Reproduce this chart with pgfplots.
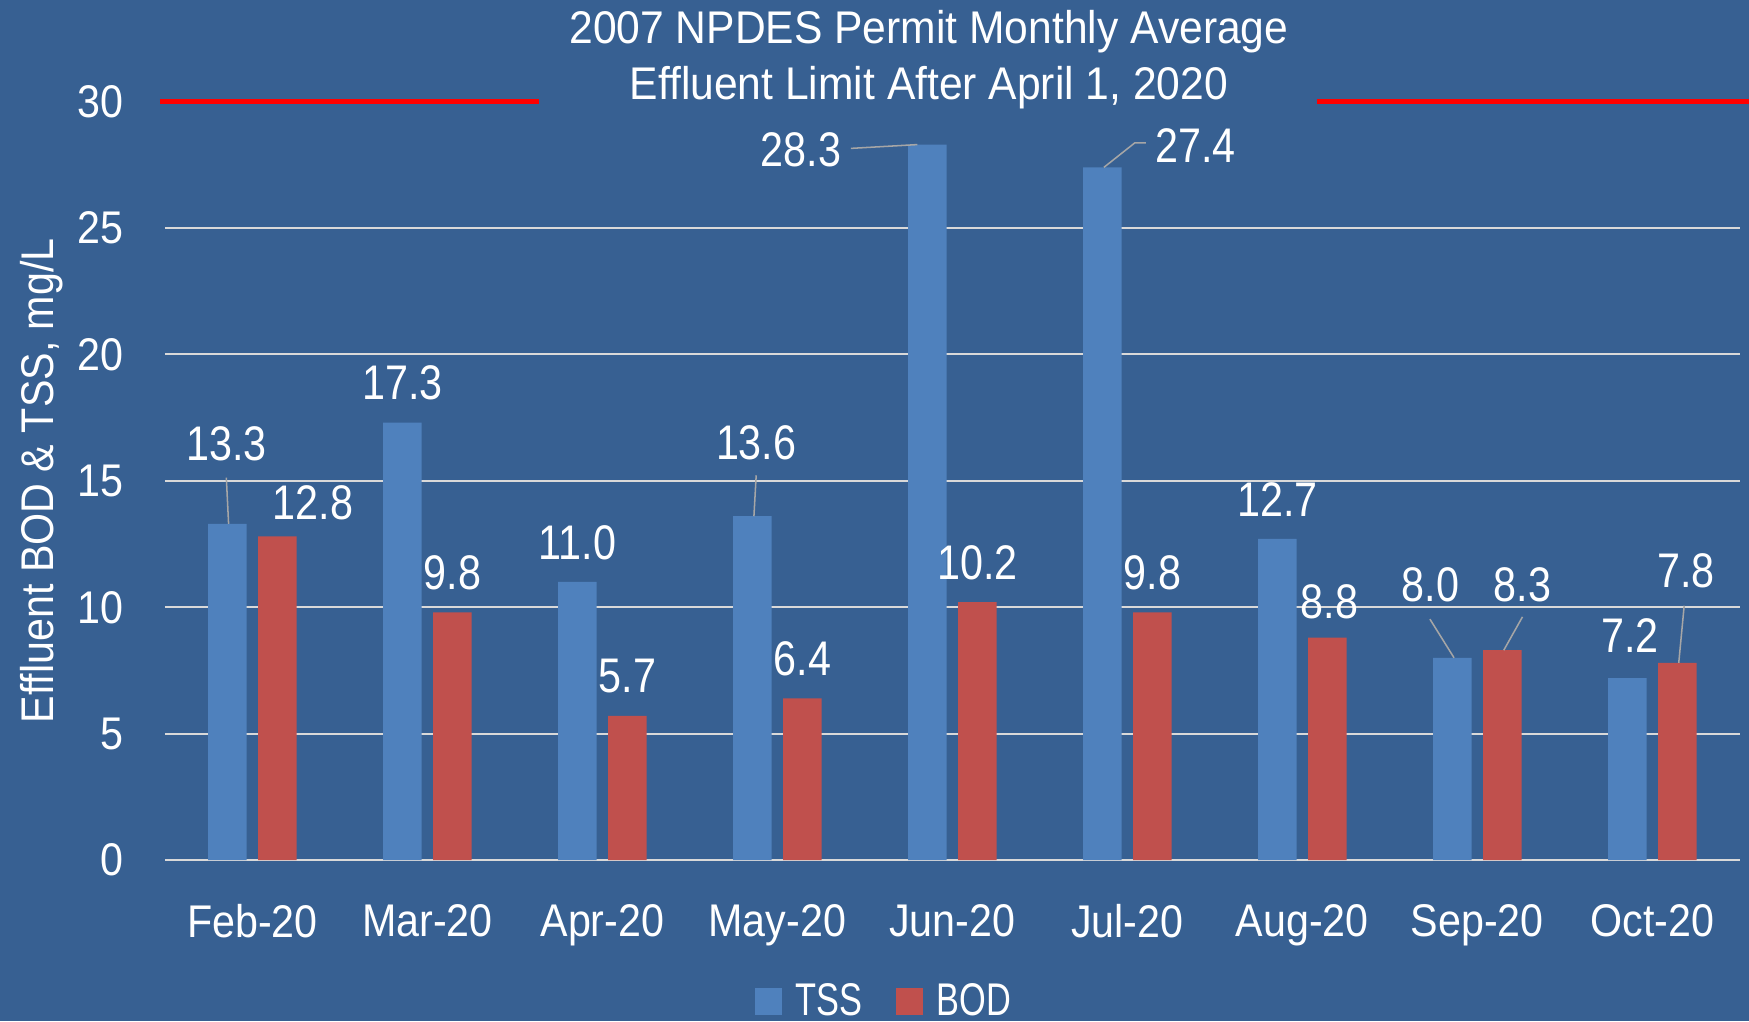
\documentclass[border=0pt]{standalone}
\usepackage{fontspec}
\setmainfont{Liberation Sans}[FakeStretch=0.9]
\newfontfamily\lblfont{Liberation Sans}[FakeStretch=0.85]
\newfontfamily\legfont{Liberation Sans}[FakeStretch=0.75]
\newfontfamily\titlefont{Liberation Sans}[FakeStretch=0.93]
\usepackage{pgfplots}
\pgfplotsset{compat=1.18}
\definecolor{bg}{RGB}{55,96,146}
\definecolor{tss}{RGB}{79,129,189}
\definecolor{bod}{RGB}{192,80,77}
\definecolor{gridc}{RGB}{217,217,217}
\definecolor{leader}{RGB}{166,166,166}
\begin{document}
\begin{tikzpicture}
\fill[bg] (0,0) rectangle (630pt,367.8pt);
\useasboundingbox (0,0) rectangle (630pt,367.8pt);
\begin{axis}[
  at={(59.4pt,58.0pt)}, anchor=south west,
  width=567.3pt, height=273.2pt, scale only axis,
  xmin=-0.5, xmax=8.5, ymin=0, ymax=30,
  ybar, bar width=0.22,
  axis line style={draw=none},
  major tick length=0pt,
  /pgf/number format/assume math mode=true,
  xtick={0,...,8},
  xticklabels={Feb-20,Mar-20,Apr-20,May-20,Jun-20,Jul-20,Aug-20,Sep-20,Oct-20},
  ytick={0,5,...,25}, extra y ticks={30}, extra y tick style={grid=none},
  ymajorgrids, grid style={gridc, line width=0.72pt},
  tick label style={font=\fontsize{16.5}{19}\selectfont, text=white},
  yticklabel style={xshift=-11.4pt},
  xticklabel style={yshift=-12.3pt},
  ylabel={Effluent BOD \& TSS, mg/L},
  every axis y label/.style={at={(axis description cs:-0.078,0.5)}, rotate=90, anchor=center, font=\fontsize{16.5}{19}\selectfont, text=white},
  clip=false,
  legend columns=2,
  legend style={at={(axis description cs:0.456,-0.1863)}, anchor=center, draw=none, fill=none, inner sep=0pt,
    nodes={inner sep=0pt, text=white, font=\legfont\fontsize{16.5}{19}\selectfont},
    /tikz/every odd column/.append style={column sep=5pt},
    /tikz/every even column/.append style={column sep=12pt}},
  legend image code/.code={\fill[#1] (0pt,-4.8pt) rectangle (9.6pt,4.8pt);},
]
\addplot[fill=tss, draw=none, bar shift=-0.143] coordinates {
  (0,13.3) (1,17.3) (2,11.0) (3,13.6) (4,28.3) (5,27.4) (6,12.7) (7,8.0) (8,7.2)};
\addlegendentry{TSS}
\addplot[fill=bod, draw=none, bar shift=0.143] coordinates {
  (0,12.8) (1,9.8) (2,5.7) (3,6.4) (4,10.2) (5,9.8) (6,8.8) (7,8.3) (8,7.8)};
\addlegendentry{BOD}
\addplot[sharp plot, red, line width=2pt, forget plot] coordinates {(-0.529,30) (1.637,30)};
\addplot[sharp plot, red, line width=2pt, forget plot] coordinates {(6.085,30) (8.56,30)};
% leader lines
\draw[leader, line width=0.55pt] (axis cs:-0.149,15.13) -- (axis cs:-0.136,13.3);
\draw[leader, line width=0.55pt] (axis cs:2.879,15.22) -- (axis cs:2.866,13.6);
\draw[leader, line width=0.55pt] (axis cs:3.42,28.15) -- (axis cs:3.80,28.3);
\draw[leader, line width=0.55pt] (axis cs:5.106,28.37) -- (axis cs:5.043,28.37) -- (axis cs:4.866,27.4);
\draw[leader, line width=0.55pt] (axis cs:6.729,9.53) -- (axis cs:6.867,8.0);
\draw[leader, line width=0.55pt] (axis cs:7.258,9.62) -- (axis cs:7.151,8.3);
\draw[leader, line width=0.55pt] (axis cs:8.182,10.06) -- (axis cs:8.151,7.8);
% data labels
\tikzset{lbl/.style={text=white, font=\lblfont\fontsize{17.5}{20}\selectfont, inner sep=0pt, anchor=center}}
\node[lbl] at (axis cs:-0.149,16.46) {13.3};
\node[lbl] at (axis cs:0.857,18.87) {17.3};
\node[lbl] at (axis cs:1.857,12.57) {11.0};
\node[lbl] at (axis cs:2.879,16.5) {13.6};
\node[lbl] at (axis cs:3.134,28.1) {28.3};
\node[lbl] at (axis cs:5.39,28.28) {27.4};
\node[lbl] at (axis cs:5.857,14.27) {12.7};
\node[lbl] at (axis cs:6.731,10.87) {8.0};
\node[lbl] at (axis cs:7.873,8.87) {7.2};
\node[lbl] at (axis cs:0.347,14.12) {12.8};
\node[lbl] at (axis cs:1.143,11.37) {9.8};
\node[lbl] at (axis cs:2.143,7.27) {5.7};
\node[lbl] at (axis cs:3.143,7.97) {6.4};
\node[lbl] at (axis cs:4.143,11.77) {10.2};
\node[lbl] at (axis cs:5.143,11.37) {9.8};
\node[lbl] at (axis cs:6.155,10.2) {8.8};
\node[lbl] at (axis cs:7.258,10.9) {8.3};
\node[lbl] at (axis cs:8.193,11.44) {7.8};
\end{axis}
\node[anchor=base, text=white, font=\titlefont\fontsize{16.5}{19}\selectfont, inner sep=0pt] at (334.6pt,352.2pt) {2007 NPDES Permit Monthly Average};
\node[anchor=base, text=white, font=\titlefont\fontsize{16.5}{19}\selectfont, inner sep=0pt] at (334.6pt,331.9pt) {Effluent Limit After April 1, 2020};
\end{tikzpicture}
\end{document}
